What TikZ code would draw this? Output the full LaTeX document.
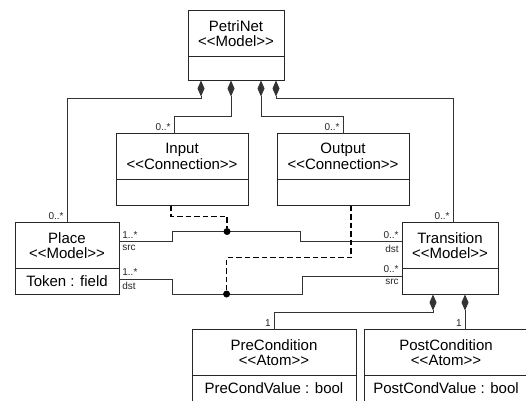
\documentclass[tikz,border=0pt]{standalone}
\usepackage{fontspec}
\setmainfont{Liberation Sans}
\usetikzlibrary{arrows.meta,positioning}
\newcommand\stereo[1]{<\kern0pt<#1>\kern0pt>}
\tikzset{
  chead/.style={rectangle, draw=black!85, line width=0.9pt, outer sep=0pt, inner sep=0pt,
                minimum height=46pt, align=center, font=\fontsize{15}{15.5}\selectfont},
  cbody/.style={chead, minimum height=26pt},
  comp/.style ={{Diamond[length=16pt,width=7pt]}-, line width=0.8pt, black!80},
  assoc/.style={line width=0.8pt, black!80},
  clink/.style={line width=1.6pt, black, dash pattern=on 5.5pt off 3pt},
  jdot/.style ={circle, fill=black, minimum size=7pt, inner sep=0pt},
  mult/.style ={font=\fontsize{10}{11}\selectfont, inner sep=3pt, text=black!85},
}
\begin{document}
\begin{tikzpicture}[x=1pt, y=-1pt]
\useasboundingbox (0,0) rectangle (526,400);
% classes
\node[chead, minimum width=96pt] (petri) at (236,33.5) {PetriNet\\\stereo{Model}};
\node[cbody, minimum width=96pt, minimum height=24pt, below=0pt of petri] (petriB) {};
\node[chead, minimum width=132pt] (input) at (182,156.5) {Input\\\stereo{Connection}};
\node[cbody, minimum width=132pt, below=0pt of input] (inputB) {};
\node[chead, minimum width=132pt] (output) at (343,156.5) {Output\\\stereo{Connection}};
\node[cbody, minimum width=132pt, below=0pt of output] (outputB) {};
\node[chead, minimum width=104pt] (place) at (67,245.5) {Place\\\stereo{Model}};
\node[cbody, minimum width=104pt, below=0pt of place] (placeB) {Token : field};
\node[chead, minimum width=96pt] (trans) at (450,245.5) {Transition\\\stereo{Model}};
\node[cbody, minimum width=96pt, below=0pt of trans] (transB) {};
\node[chead, minimum width=164pt] (pre) at (274,352.5) {PreCondition\\\stereo{Atom}};
\node[cbody, minimum width=164pt, below=0pt of pre] (preB) {PreCondValue : bool};
\node[chead, minimum width=164pt] (post) at (446,352.5) {PostCondition\\\stereo{Atom}};
\node[cbody, minimum width=164pt, below=0pt of post] (postB) {PostCondValue : bool};
% composition
\draw[comp] ([xshift=-35pt]petriB.south) -- ++(0,18) -| (place.north) node[mult, above left] {0..*};
\draw[comp] ([xshift=-5pt]petriB.south) -- ++(0,36) -| ([xshift=-8pt]input.north) node[mult, above left] {0..*};
\draw[comp] ([xshift=25pt]petriB.south) -- ++(0,36) -| (output.north) node[mult, above left] {0..*};
\draw[comp] ([xshift=40pt]petriB.south) -- ++(0,18) -| ([xshift=3pt]trans.north) node[mult, above left] {0..*};
\draw[comp] ([xshift=-17pt]transB.south) -- ++(0,18) -| (pre.north) node[mult, above left] {1};
\draw[comp] ([xshift=15pt]transB.south) coordinate (d2) -- (d2 |- post.north) node[mult, above left] {1};
% arcs
\draw[assoc] ([yshift=4pt]place.east) node[mult, above right] {1..*} node[mult, below right] {src}
  -- ++(53,0) -- ++(0,-10) -- node[jdot, pos=0.43] (jin) {} ++(128,0) -- ++(0,10)
  -- ([yshift=4pt]trans.west) node[mult, above left] {0..*} node[mult, below left] {dst};
\draw[assoc] ([yshift=2.5pt]placeB.east) node[mult, above right] {1..*} node[mult, below right] {dst}
  -- ++(53,0) -- ++(0,15) -- node[jdot, pos=0.42] (jout) {} ++(130,0) -- ++(0,-18)
  -- ([yshift=5.5pt]transB.west) node[mult, above left] {0..*} node[mult, below left] {src};
\draw[clink] ([xshift=-11pt]inputB.south) -- ++(0,11) -| (jin);
\draw[clink] ([xshift=8pt]outputB.south) -- ++(0,52) -| (jout);
\end{tikzpicture}
\end{document}
